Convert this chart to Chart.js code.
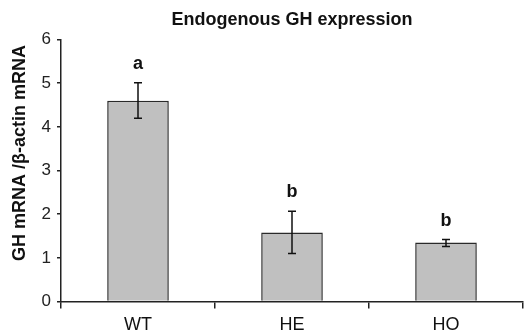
<!DOCTYPE html>
<html><head><meta charset="utf-8">
<script src="https://cdn.jsdelivr.net/npm/chart.js@4"></script>
<style>html,body{margin:0;padding:0;background:#fff}</style>
</head><body>
<canvas id="c" width="528" height="335"></canvas>
<script>
const categories = ['WT', 'HE', 'HO'];
const means = [4.6, 1.58, 1.35];
const errUpper = [5.01, 2.07, 1.42];
const errLower = [4.2, 1.10, 1.26];
const letters = ['a', 'b', 'b'];
const yTickValues = [0, 1, 2, 3, 4, 5, 6];
const yTitle = 'GH mRNA /β-actin mRNA';

const FONT = '"Liberation Sans", Arial, Helvetica, sans-serif';

const errorPlugin = {
  id: 'errbars',
  afterDatasetsDraw(chart) {
    const ctx = chart.ctx, xs = chart.scales.x, ys = chart.scales.y;
    ctx.save();
    ctx.strokeStyle = '#111';
    ctx.lineWidth = 1.5;
    categories.forEach((c, i) => {
      const px = xs.getPixelForValue(i);
      const top = ys.getPixelForValue(errUpper[i]);
      const bot = ys.getPixelForValue(errLower[i]);
      ctx.beginPath();
      ctx.moveTo(px, top); ctx.lineTo(px, bot);
      ctx.moveTo(px - 4, top); ctx.lineTo(px + 4, top);
      ctx.moveTo(px - 4, bot); ctx.lineTo(px + 4, bot);
      ctx.stroke();
      ctx.fillStyle = '#111';
      ctx.font = 'bold 18px ' + FONT;
      ctx.textAlign = 'center';
      ctx.textBaseline = 'alphabetic';
      ctx.fillText(letters[i], px, top - 14);
    });
    ctx.restore();
  }
};

new Chart(document.getElementById('c'), {
  type: 'bar',
  data: {
    labels: categories,
    datasets: [{
      data: means,
      backgroundColor: '#c0c0c0',
      borderColor: '#2a2a2a',
      borderWidth: 1.5,
      barPercentage: 0.8,
      categoryPercentage: 0.5
    }]
  },
  options: {
    responsive: false,
    animation: false,
    devicePixelRatio: 1,
    layout: { padding: { left: 0, right: 5, top: 0, bottom: 0 } },
    plugins: {
      legend: { display: false },
      tooltip: { enabled: false },
      title: {
        display: true,
        fullSize: false,
        text: 'Endogenous GH expression',
        color: '#111',
        font: { family: FONT, size: 18, weight: 'bold', lineHeight: 1.2 },
        padding: { top: 9, bottom: 9 }
      }
    },
    scales: {
      x: {
        grid: { drawOnChartArea: false, drawTicks: true, tickLength: 7, color: '#222', lineWidth: 1.5, offset: true },
        border: { color: '#222', width: 1.5 },
        ticks: { color: '#111', font: { family: FONT, size: 18 }, padding: 6 },
        afterFit(s) { s.height = 33.5; }
      },
      y: {
        min: 0, max: 6,
        afterBuildTicks(s) { s.ticks = yTickValues.map(v => ({ value: v })); },
        grid: { drawOnChartArea: false, drawTicks: true, tickLength: 4, color: '#222', lineWidth: 1.5 },
        border: { color: '#222', width: 1.5 },
        ticks: { color: '#222', font: { family: FONT, size: 17 }, padding: 6 },
        title: {
          display: true,
          text: '       ' + yTitle,
          color: '#111',
          font: { family: FONT, size: 18, weight: 'bold', lineHeight: 1.2 },
          padding: { top: 9, bottom: 0 }
        },
        afterFit(s) { s.width = 61; }
      }
    }
  },
  plugins: [errorPlugin]
});
</script>
</body></html>
